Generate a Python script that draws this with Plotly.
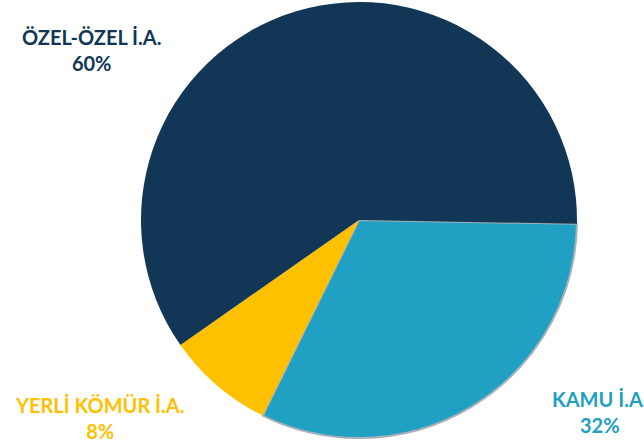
import plotly.graph_objects as go

labels = ['KAMU İ.A.', 'YERLİ KÖMÜR İ.A.', 'ÖZEL-ÖZEL İ.A.']
values = [32, 8, 60]
colors = ['#20A0C3', '#FFC000', '#123655']

W, H = 644, 446

fig = go.Figure(
    go.Pie(
        labels=labels,
        values=values,
        sort=False,
        direction='clockwise',
        rotation=91,
        textinfo='none',
        hoverinfo='label+percent',
        marker=dict(
            colors=colors,
            line=dict(color=['#a9b0b8', colors[1], colors[2]], width=[2, 0, 0]),
        ),
        domain=dict(x=[141 / W, 577 / W], y=[8 / H, 444 / H]),
        showlegend=False,
    )
)

# outside labels: name + percent, coloured like the slice
label_pos = [(600, 412), (100, 418), (91, 50)]
for name, val, col, (px_, py_) in zip(labels, values, colors, label_pos):
    fig.add_annotation(
        x=px_ / W,
        y=1 - py_ / H,
        xref='paper',
        yref='paper',
        xanchor='center',
        yanchor='middle',
        text=f'<b>{name}<br>{val}%</b>',
        showarrow=False,
        align='center',
        font=dict(family='Lato', size=20, color=col),
    )

fig.update_layout(
    width=W,
    height=H,
    margin=dict(l=0, r=0, t=0, b=0),
    paper_bgcolor='white',
    plot_bgcolor='white',
)

fig.write_html(
    'out.html',
    config={'displayModeBar': False},
    post_script="document.body.style.margin='0';",
)
